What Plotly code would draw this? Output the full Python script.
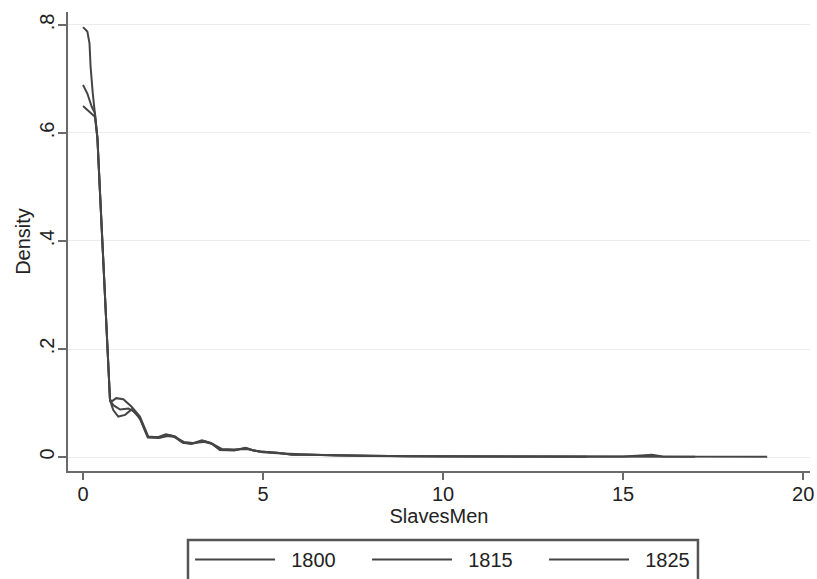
import plotly.graph_objects as go

# --- data ---
years = ["1800", "1815", "1825"]

x_1800 = [0.0, 0.12, 0.18, 0.21, 0.27, 0.33, 0.40, 0.47, 0.61, 0.75, 0.82, 0.92, 1.12, 1.35, 1.58, 1.81,
          2.14, 2.33, 2.56, 2.79, 3.06, 3.34, 3.57, 3.81, 4.18, 4.55, 4.73, 4.92, 5.38, 5.84, 6.31,
          7.0, 8.0, 9.0, 10.0, 11.0, 12.0, 13.0, 14.0, 15.0, 15.5, 15.8, 16.1, 17.0, 18.0, 19.0]
y_1800 = [0.796, 0.788, 0.766, 0.723, 0.674, 0.637, 0.592, 0.49, 0.29, 0.105, 0.104, 0.109, 0.107, 0.093, 0.075, 0.038,
          0.036, 0.041, 0.038, 0.026, 0.025, 0.030, 0.025, 0.014, 0.013, 0.016, 0.012, 0.010, 0.008, 0.004, 0.004,
          0.003, 0.002, 0.0015, 0.0012, 0.001, 0.001, 0.0008, 0.0007, 0.0008, 0.003, 0.004, 0.0008, 0.0005, 0.0005, 0.0005]

x_1815 = [0.0, 0.12, 0.24, 0.33, 0.40, 0.47, 0.61, 0.75, 0.84, 1.03, 1.26, 1.45, 1.6, 1.8, 2.1, 2.35, 2.55,
          2.8, 3.05, 3.35, 3.6, 3.85, 4.2, 4.55, 4.75, 5.0, 5.4, 5.9, 6.4, 7.0, 8.0, 9.0, 10.0, 11.0, 12.0,
          13.0, 14.0, 15.0, 16.0, 17.0]
y_1815 = [0.689, 0.673, 0.649, 0.637, 0.59, 0.49, 0.29, 0.105, 0.096, 0.088, 0.09, 0.083, 0.068, 0.036, 0.035, 0.039, 0.037,
          0.028, 0.026, 0.028, 0.024, 0.015, 0.014, 0.015, 0.012, 0.009, 0.007, 0.005, 0.004, 0.003, 0.002, 0.0015, 0.001, 0.001, 0.0008,
          0.0007, 0.0006, 0.0006, 0.0005, 0.0005]

x_1825 = [0.0, 0.12, 0.29, 0.33, 0.40, 0.47, 0.61, 0.75, 0.84, 0.98, 1.17, 1.35, 1.58, 1.8, 2.1, 2.3, 2.5,
          2.75, 3.0, 3.3, 3.55, 3.8, 4.2, 4.5, 4.7, 4.9, 5.4, 5.8, 6.3, 7.0, 8.0, 9.0, 10.0, 11.0, 12.0, 13.0, 14.0]
y_1825 = [0.65, 0.643, 0.633, 0.63, 0.59, 0.49, 0.29, 0.105, 0.087, 0.075, 0.078, 0.088, 0.072, 0.037, 0.037, 0.042, 0.039,
          0.027, 0.024, 0.031, 0.026, 0.013, 0.012, 0.017, 0.013, 0.010, 0.008, 0.004, 0.004, 0.003, 0.002, 0.0015, 0.0012, 0.001, 0.0008, 0.0006, 0.0005]

x_ticks = [0, 5, 10, 15, 20]
y_ticks = [0, 0.2, 0.4, 0.6, 0.8]
y_ticklabels = ["0", ".2", ".4", ".6", ".8"]

FONT = "Liberation Sans, Arial, sans-serif"
LINE = "#454545"
AXIS = "#6a6a6a"

fig = go.Figure()
for name, xs, ys in zip(years, [x_1800, x_1815, x_1825], [y_1800, y_1815, y_1825]):
    fig.add_trace(go.Scatter(x=xs, y=ys, mode="lines", name="\u00a0\u00a0" + name,
                             line=dict(color=LINE, width=2)))

# legend frame (drawn as a paper-referenced rectangle so its width matches the reference)
fig.add_shape(type="rect", xref="paper", yref="paper", x0=0.1617, x1=0.849, y0=-0.1503, y1=-0.245,
              line=dict(color="#555", width=2.5), fillcolor="rgba(0,0,0,0)", layer="above")

fig.update_layout(
    width=817, height=579,
    margin=dict(l=68, r=7, t=12, b=108),
    plot_bgcolor="white", paper_bgcolor="white",
    font=dict(family=FONT, size=20, color="#222"),
    showlegend=True,
    legend=dict(orientation="h", x=0.1645, y=-0.007, xanchor="left", yanchor="bottom", yref="container",
                borderwidth=0, bgcolor="rgba(0,0,0,0)",
                itemwidth=80, entrywidth=82, entrywidthmode="pixels",
                font=dict(family=FONT, size=20, color="#222"), traceorder="normal"),
    xaxis=dict(range=[-0.417, 20.19], tickvals=x_ticks, ticks="outside", ticklen=7, tickwidth=1.5,
               tickcolor=AXIS, showline=True, linecolor=AXIS, linewidth=2, showgrid=False, zeroline=False,
               title=dict(text="SlavesMen", standoff=2, font=dict(size=20)), automargin=False,
               ticklabelstandoff=-3, tickfont=dict(size=20)),
    yaxis=dict(range=[-0.0259, 0.824], tickvals=y_ticks, ticktext=y_ticklabels, tickangle=-90,
               ticks="outside", ticklen=8, tickwidth=1.5, tickcolor=AXIS,
               showline=True, linecolor=AXIS, linewidth=2, showgrid=True, gridcolor="#ececec", gridwidth=1.2,
               zeroline=False, title=dict(text="Density", standoff=0, font=dict(size=20)), automargin=False,
               ticklabelstandoff=-4, tickfont=dict(size=20)),
)

fig.write_html("out.html")
